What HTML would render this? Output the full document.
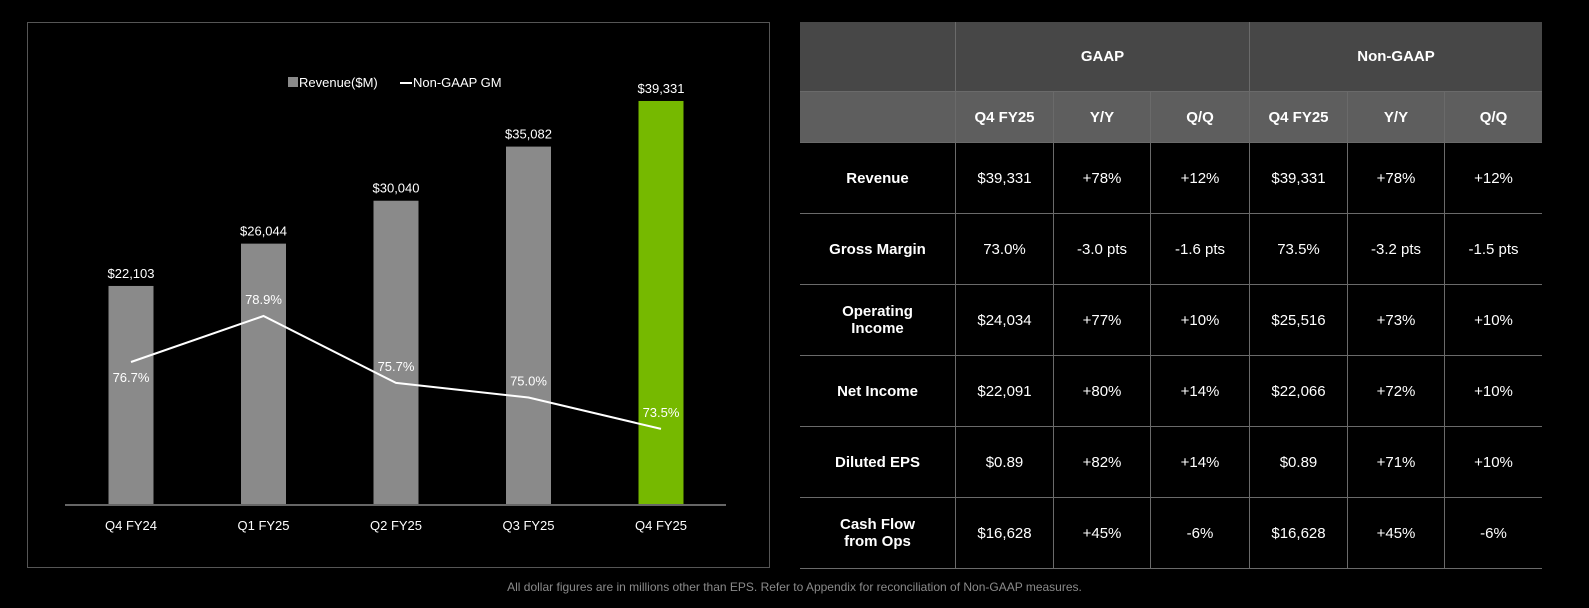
<!DOCTYPE html>
<html><head><meta charset="utf-8"><style>
body{margin:0;background:#000;width:1589px;height:608px;overflow:hidden;font-family:"Liberation Sans",sans-serif;color:#fff}
#frame{position:absolute;left:27px;top:22px;width:743px;height:546px;border:1px solid #555;box-sizing:border-box}
table{position:absolute;left:800px;top:22px;border-collapse:collapse;font-size:15px}
td{text-align:center;padding:0;border:1px solid #6a6a6a}
.h1 td{background:#474747;height:69px;font-weight:bold;border-top:none}
.h2 td{background:#5e5e5e;height:50px;font-weight:bold}
.r td{height:70px;background:#000}
td.lab{font-weight:bold;border-left:none}
tr td:last-child{border-right:none}
#foot{position:absolute;top:580px;left:0;width:1589px;text-align:center;font-size:12px;color:#8a8a8a}
</style></head><body>
<div id="frame"></div>
<svg id="chart" width="780" height="608" style="position:absolute;left:0;top:0" font-family="Liberation Sans, sans-serif" font-size="13">
<g>
<rect x="288" y="77" width="10" height="10" fill="#8a8a8a"/>
<text x="299" y="87" fill="#fff">Revenue($M)</text>
<line x1="400" y1="83" x2="412" y2="83" stroke="#fff" stroke-width="2"/>
<text x="413" y="87" fill="#fff">Non-GAAP GM</text>
</g>
</svg>
<table>
<tr class="h1"><td style="width:155px;border-left:none"></td><td colspan="3">GAAP</td><td colspan="3">Non-GAAP</td></tr>
<tr class="h2"><td style="border-left:none"></td><td style="width:97px">Q4 FY25</td><td style="width:96px">Y/Y</td><td style="width:98px">Q/Q</td><td style="width:97px">Q4 FY25</td><td style="width:96px">Y/Y</td><td style="width:97px">Q/Q</td></tr>
<tr class="r"><td class="lab">Revenue</td><td>$39,331</td><td>+78%</td><td>+12%</td><td>$39,331</td><td>+78%</td><td>+12%</td></tr>
<tr class="r"><td class="lab">Gross Margin</td><td>73.0%</td><td>-3.0 pts</td><td>-1.6 pts</td><td>73.5%</td><td>-3.2 pts</td><td>-1.5 pts</td></tr>
<tr class="r"><td class="lab">Operating<br>Income</td><td>$24,034</td><td>+77%</td><td>+10%</td><td>$25,516</td><td>+73%</td><td>+10%</td></tr>
<tr class="r"><td class="lab">Net Income</td><td>$22,091</td><td>+80%</td><td>+14%</td><td>$22,066</td><td>+72%</td><td>+10%</td></tr>
<tr class="r"><td class="lab">Diluted EPS</td><td>$0.89</td><td>+82%</td><td>+14%</td><td>$0.89</td><td>+71%</td><td>+10%</td></tr>
<tr class="r"><td class="lab">Cash Flow<br>from Ops</td><td>$16,628</td><td>+45%</td><td>-6%</td><td>$16,628</td><td>+45%</td><td>-6%</td></tr>
</table>
<div id="foot">All dollar figures are in millions other than EPS. Refer to Appendix for reconciliation of Non-GAAP measures.</div>
<script>
const categories=["Q4 FY24","Q1 FY25","Q2 FY25","Q3 FY25","Q4 FY25"];
const revenue=[22103,26044,30040,35082,39331];
const revenueLabels=["$22,103","$26,044","$30,040","$35,082","$39,331"];
const gm=[76.7,78.9,75.7,75.0,73.5];
const gmLabels=["76.7%","78.9%","75.7%","75.0%","73.5%"];
const NS="http://www.w3.org/2000/svg";
const svg=document.getElementById('chart');
const x0=131,dx=132.5,base=505;
const xPos=i=>x0+i*dx;
const yRev=v=>523.3-v*0.010738;
const yGm=v=>362-(v-76.7)*20.9;
function mk(t,a){const e=document.createElementNS(NS,t);for(const k in a)e.setAttribute(k,a[k]);svg.appendChild(e);return e;}
revenue.forEach((v,i)=>{
 const r=mk('rect',{x:xPos(i)-22.5,y:yRev(v),width:45,height:base-yRev(v),fill:i==4?'#76b900':'#8a8a8a'});
 
 
 const t=mk('text',{x:xPos(i),y:yRev(v)-8,fill:'#fff','text-anchor':'middle'});t.textContent=revenueLabels[i];
 
 
 const c=mk('text',{x:xPos(i),y:530,fill:'#fff','text-anchor':'middle'});c.textContent=categories[i];
 
 
});
const ax=mk('line',{x1:65,y1:base,x2:726,y2:base,stroke:'#666','stroke-width':2});


const pl=mk('polyline',{points:gm.map((v,i)=>xPos(i)+','+yGm(v)).join(' '),fill:'none',stroke:'#fff','stroke-width':2});


gm.forEach((v,i)=>{
 const t=mk('text',{x:xPos(i),y:i==0?yGm(v)+20:yGm(v)-12,fill:'#fff','text-anchor':'middle'});t.textContent=gmLabels[i];
 
 
});
</script>
</body></html>
